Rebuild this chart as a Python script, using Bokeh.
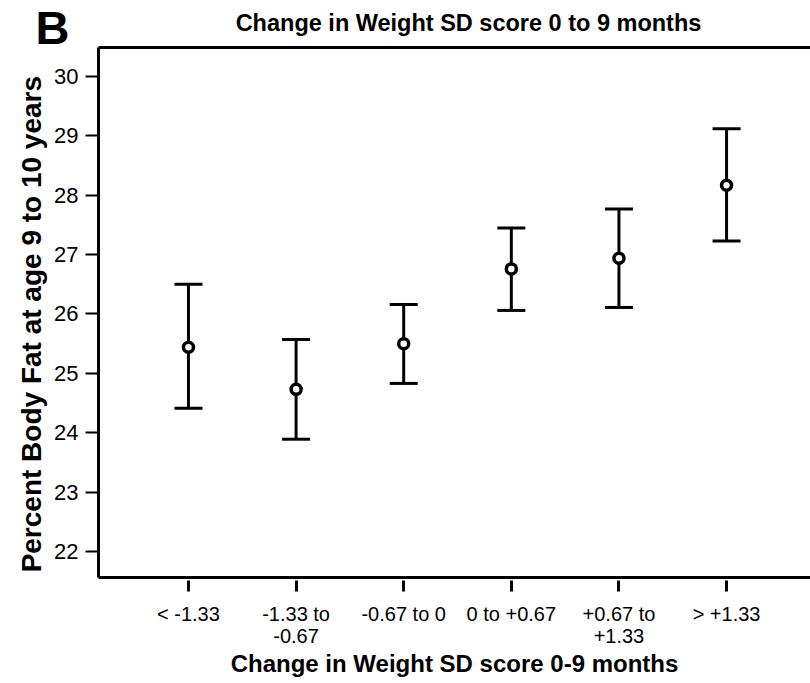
from bokeh.plotting import figure
from bokeh.models import (Range1d, FixedTicker, LinearAxis, Whisker, TeeHead,
                          ColumnDataSource)
from bokeh.layouts import column
from bokeh.core.properties import value
from bokeh.embed import file_html
from bokeh.resources import INLINE

# Weight SD score change groups (0-9 months)
categories = ["< -1.33", "-1.33 to\n-0.67", "-0.67 to 0", "0 to +0.67",
              "+0.67 to\n+1.33", "> +1.33"]
# Mean percent body fat at age 9-10 years with 95% CI bounds
means = [25.44, 24.73, 25.50, 26.76, 26.94, 28.17]
lower = [24.41, 23.89, 24.83, 26.06, 26.11, 27.23]
upper = [26.50, 25.57, 26.16, 27.45, 27.77, 29.12]
y_ticks = [22, 23, 24, 25, 26, 27, 28, 29, 30]

title_text = "Change in Weight SD score 0 to 9 months"
panel_letter = "B"

FONT = "Liberation Sans"
HEADER_H = 58      # header strip height
OVERLAP = 14       # chart canvas slides up under the header's lower edge
W, H = 810, 683
CHART_H = H - HEADER_H + OVERLAP

# ---- header strip with panel letter and title ----
head = figure(width=W, height=HEADER_H, output_backend="svg", toolbar_location=None,
              x_range=Range1d(0, W), y_range=Range1d(HEADER_H, 0),
              min_border=0, x_axis_location=None, y_axis_location=None)
head.frame_align = False
head.grid.visible = False
head.outline_line_color = None
head.text(x=[52], y=[27], text=[panel_letter], text_font=value(FONT),
          text_font_size="47px", text_font_style="bold", text_align="center",
          text_baseline="middle", text_color="black")
head.text(x=[468], y=[22], text=[title_text], text_font=value(FONT),
          text_font_size="23.5px", text_font_style="bold", text_align="center",
          text_baseline="middle", text_color="black")

# ---- main chart ----
xs = list(range(len(categories)))
src = ColumnDataSource(data=dict(x=xs, mean=means, lower=lower, upper=upper))

top_border = 47 - (HEADER_H - OVERLAP)
p = figure(width=W, height=CHART_H, output_backend="svg", toolbar_location=None,
           x_range=Range1d(-0.836, 5.78), y_range=Range1d(21.56, 30.49),
           min_border_left=98, min_border_right=0, min_border_top=top_border,
           min_border_bottom=106, x_axis_location=None, y_axis_location=None,
           margin=(-OVERLAP, 0, 0, 0))
p.frame_align = False
p.grid.visible = False
p.outline_line_color = None
p.border_fill_alpha = 0

# left axis
yax = LinearAxis(ticker=FixedTicker(ticks=y_ticks),
                 axis_label="Percent Body Fat at age 9 to 10 years   ")
yax.axis_line_width = 3
yax.axis_line_color = "black"
yax.major_tick_out = 13
yax.major_tick_in = 0
yax.major_tick_line_width = 2
yax.minor_tick_line_color = None
yax.major_label_text_font = FONT
yax.major_label_text_font_size = "22px"
yax.major_label_text_color = "black"
yax.major_label_standoff = 7
yax.axis_label_text_font = FONT
yax.axis_label_text_font_size = "28px"
yax.axis_label_text_font_style = "bold"
yax.axis_label_text_color = "black"
yax.axis_label_standoff = 4
p.add_layout(yax, "left")

# bottom axis: frame line plus detached ticks
xax = LinearAxis(ticker=FixedTicker(ticks=xs),
                 axis_label="Change in Weight SD score 0-9 months")
xax.major_label_overrides = {i: c for i, c in zip(xs, categories)}
xax.axis_line_width = 3
xax.axis_line_color = "black"
xax.major_tick_in = -3
xax.major_tick_out = 14
xax.major_tick_line_width = 3
xax.minor_tick_line_color = None
xax.major_label_text_font = FONT
xax.major_label_text_font_size = "20px"
xax.major_label_text_line_height = 1.0
xax.major_label_text_color = "black"
xax.major_label_standoff = 11
xax.axis_label_text_font = FONT
xax.axis_label_text_font_size = "24px"
xax.axis_label_text_font_style = "bold"
xax.axis_label_text_color = "black"
xax.axis_label_standoff = 0
p.add_layout(xax, "below")

# top frame line
tax = LinearAxis(ticker=FixedTicker(ticks=[]))
tax.axis_line_width = 3
tax.axis_line_color = "black"
tax.major_tick_out = 0
tax.major_tick_in = 0
tax.major_label_standoff = 0
tax.major_tick_line_color = None
tax.minor_tick_line_color = None
tax.major_label_text_font_size = "0px"
p.add_layout(tax, "above")

# confidence interval bars
wh = Whisker(source=src, base="x", lower="lower", upper="upper",
             line_width=3, line_color="black",
             upper_head=TeeHead(size=28, line_width=3, line_color="black"),
             lower_head=TeeHead(size=28, line_width=3, line_color="black"))
p.add_layout(wh)

p.scatter("x", "mean", source=src, size=10, marker="circle",
          fill_color="white", line_color="black", line_width=3.5)

layout = column(head, p, spacing=0)
open("out.html", "w").write(file_html(layout, INLINE))
